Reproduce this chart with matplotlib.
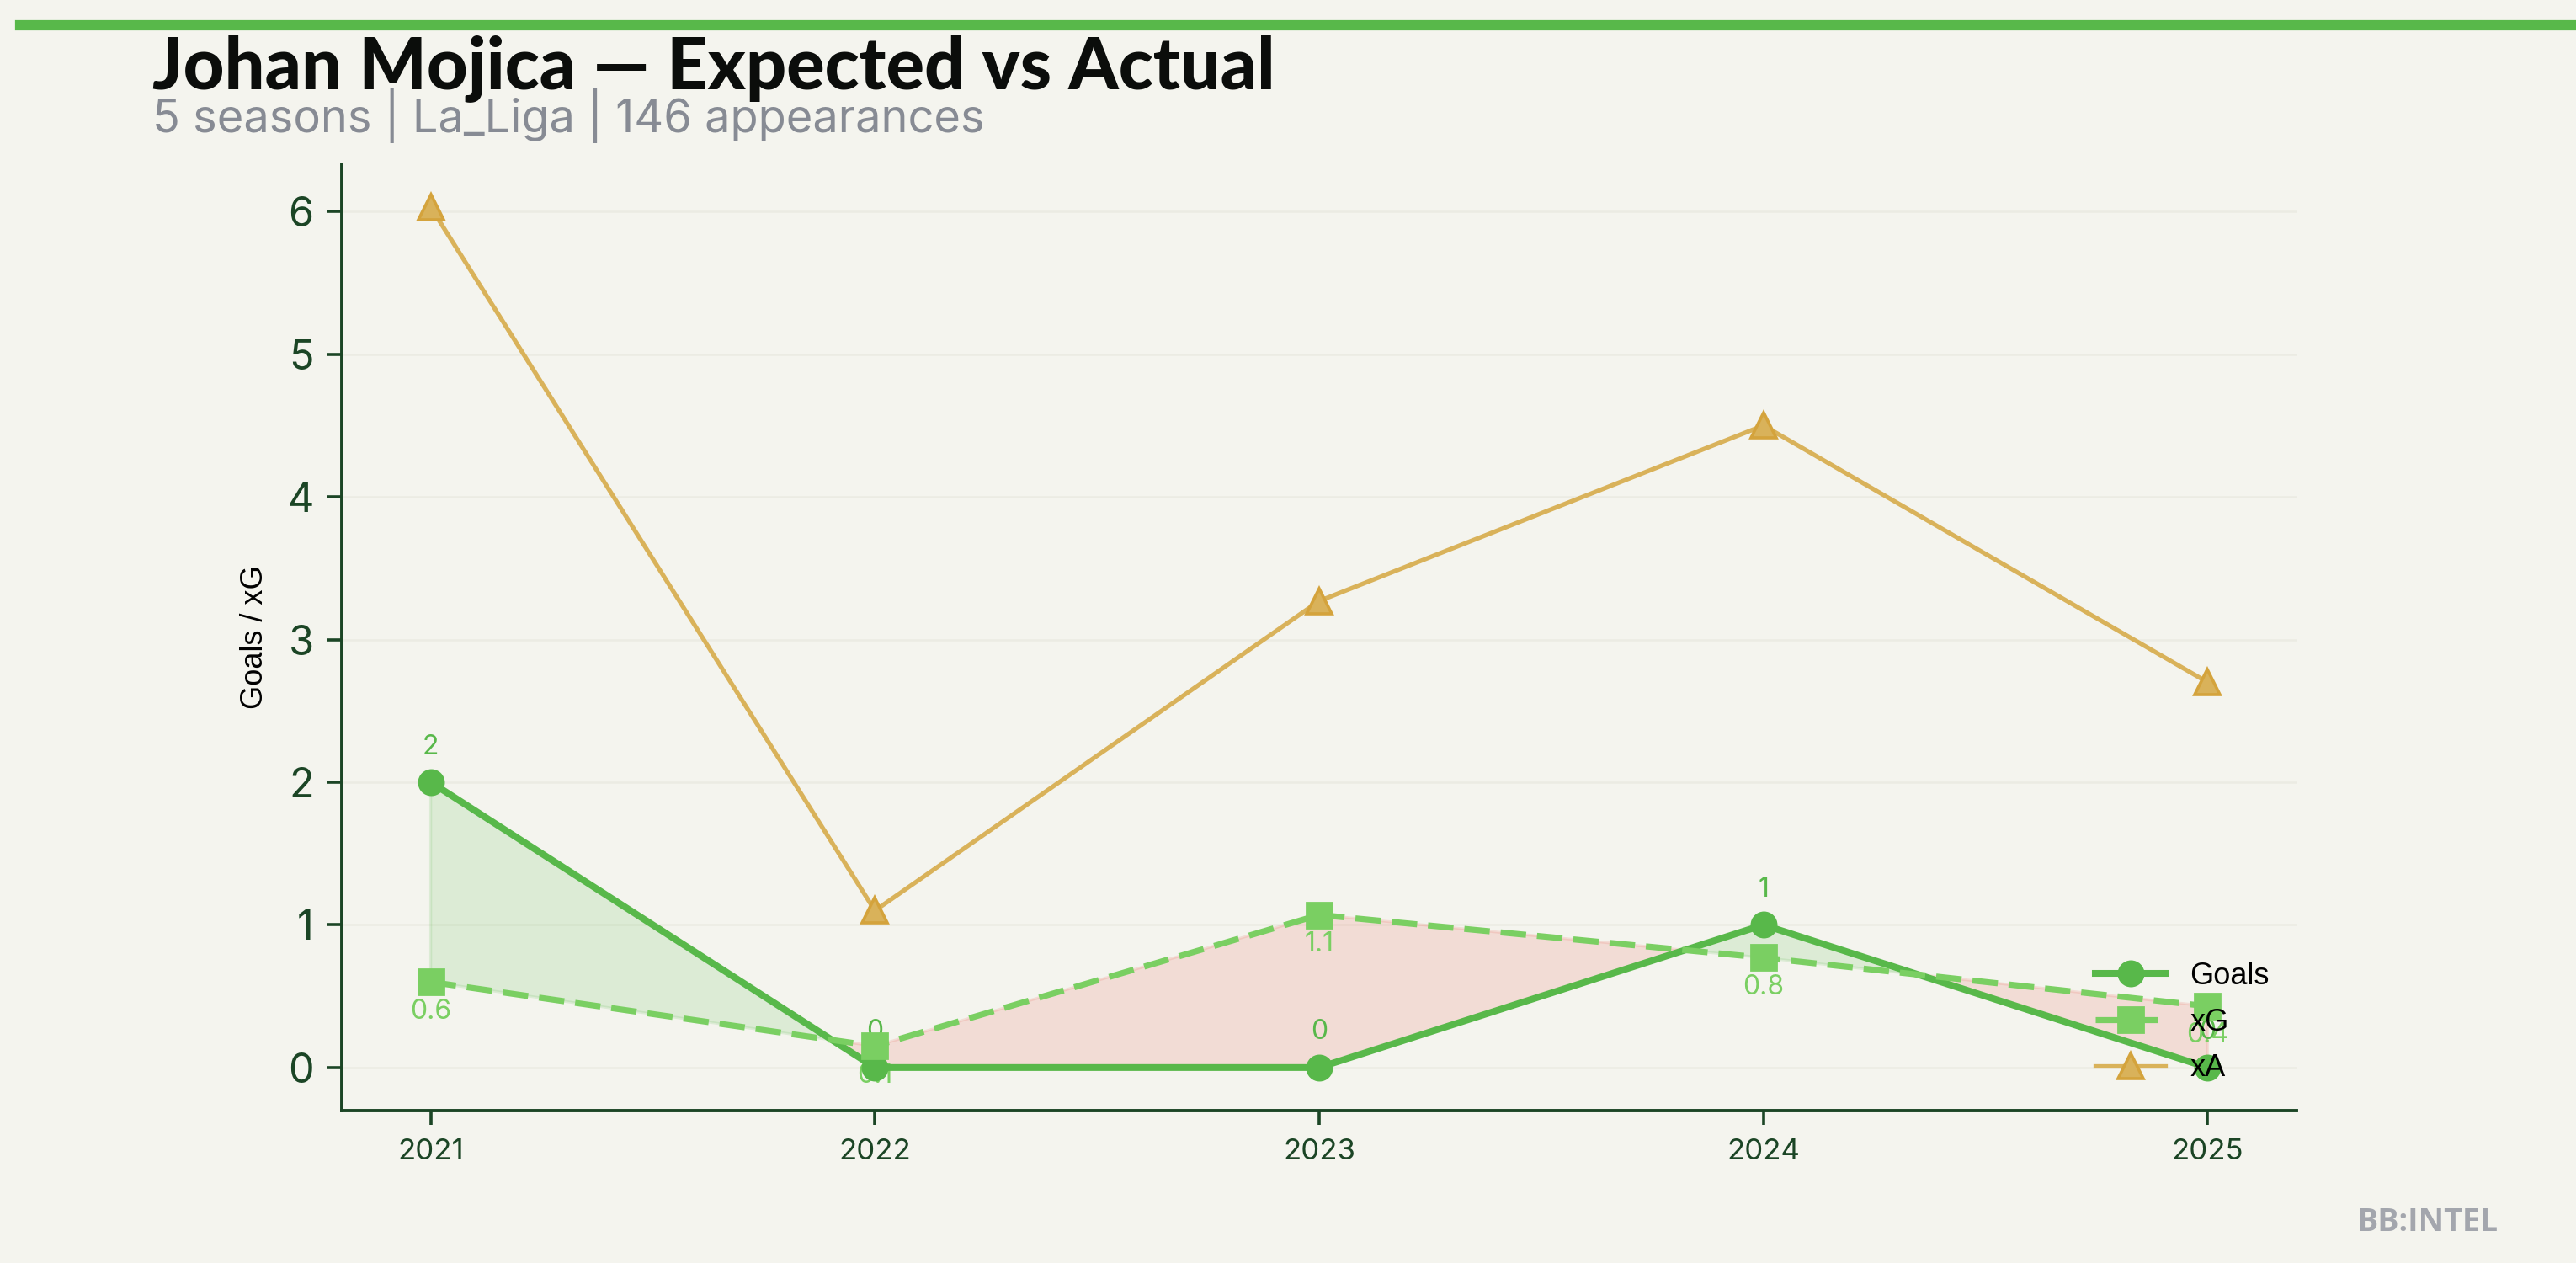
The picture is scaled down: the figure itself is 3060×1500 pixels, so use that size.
import matplotlib
matplotlib.use("Agg")
import matplotlib.pyplot as plt
import numpy as np

seasons = [2021, 2022, 2023, 2024, 2025]
goals = [2, 0, 0, 1, 0]
xg = [0.6, 0.15, 1.07, 0.77, 0.43]
xa = [6.03, 1.1, 3.27, 4.5, 2.7]
xg_labels = ["0.6", "0.1", "1.1", "0.8", "0.4"]
goal_labels = ["2", "0", "0", "1", "0"]

BG = "#f4f4ee"
GREEN = "#58b84a"
LGREEN = "#7acf62"
GOLD = "#d9b25a"
GOLD_M = "#d4a33c"
DARK = "#1b4525"

plt.rcParams['font.family'] = ['Inter', 'DejaVu Sans']

fig = plt.figure(figsize=(15.3, 7.5), dpi=200, facecolor=BG)
ax = fig.add_axes([0.1327, 0.1207, 0.7588, 0.7493], facecolor=BG)

x = np.array(seasons, dtype=float)
g = np.array(goals, dtype=float)
e = np.array(xg, dtype=float)

ax.fill_between(x, g, e, where=g >= e, interpolate=True, color=GREEN, alpha=0.15, lw=1.2)
ax.fill_between(x, g, e, where=g < e, interpolate=True, color="#ea6a5c", alpha=0.17, lw=1.2)

ax.plot(x, g, color=GREEN, lw=2.9, marker='o', ms=10.5, label="Goals", zorder=4)
ax.plot(x, e, color=LGREEN, lw=2.6, ls=(0, (4.2, 1.8)), marker='s', ms=10.5, label="xG", zorder=4)
ax.plot(x, xa, color=GOLD, lw=1.9, marker='^', ms=10.5, mfc=GOLD, mec=GOLD_M, mew=1.3,
        label="xA", zorder=3)

for xi, gi, lab in zip(x, g, goal_labels):
    ax.annotate(lab, (xi, gi), xytext=(0, 9.5), textcoords='offset points', ha='center',
                va='bottom', color=GREEN, fontsize=11.5)
for xi, ei, lab in zip(x, e, xg_labels):
    ax.annotate(lab, (xi, ei), xytext=(0, -7), textcoords='offset points', ha='center',
                va='top', color=LGREEN, fontsize=11.5)

ax.set_xticks(seasons)
ax.set_xticklabels([str(s) for s in seasons])
ax.tick_params(axis='x', labelsize=12.5, colors=DARK, length=6, width=1.3, pad=6)
ax.tick_params(axis='y', labelsize=17.5, colors=DARK, length=6, width=1.3, pad=6)
for s in ['top', 'right']:
    ax.spines[s].set_visible(False)
for s in ['left', 'bottom']:
    ax.spines[s].set_color(DARK)
    ax.spines[s].set_linewidth(1.4)
ax.grid(axis='y', color='#ebebe3', lw=0.9)
ax.set_axisbelow(True)
ax.set_ylabel("Goals / xG", fontsize=13, color='black',
              family=['Liberation Sans', 'DejaVu Sans'])
ax.yaxis.set_label_coords(-0.037, 0.5)

leg = ax.legend(loc='lower right', frameon=False, handlelength=2.3,
                labelspacing=0.55,
                prop={'family': ['Liberation Sans', 'DejaVu Sans'], 'size': 13})

fig.add_artist(plt.Line2D([0.0078, 1.0], [0.98, 0.98], color=GREEN, lw=4.4,
                          transform=fig.transFigure))
fig.text(0.059, 0.930, "Johan Mojica — Expected vs Actual", fontsize=30.5,
         fontweight='black', family=['Lato', 'DejaVu Sans'], color='#0b0d0b', va='baseline')
fig.text(0.059, 0.8953, "5 seasons | La_Liga | 146 appearances", fontsize=19.5,
         color='#878b94', va='baseline')
fig.text(0.970, 0.0253, "BB:INTEL", fontsize=13.5, fontweight='bold', color='#a3a6ad',
         ha='right', va='baseline', family=['Open Sans', 'DejaVu Sans'])

fig.savefig("out.png", dpi=200, facecolor=BG)
